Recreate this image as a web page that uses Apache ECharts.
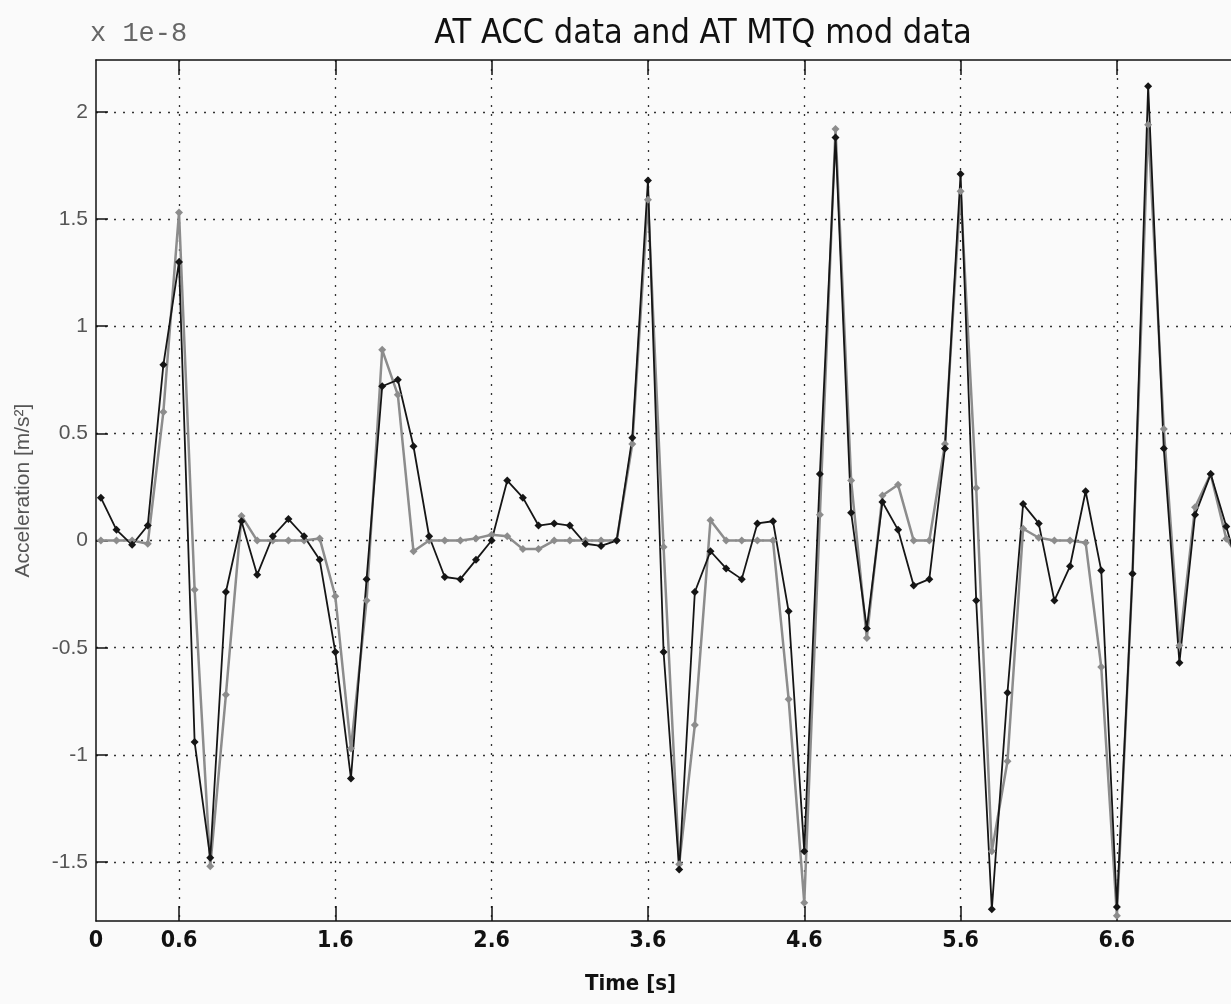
<!DOCTYPE html>
<html>
<head>
<meta charset="utf-8">
<script src="https://cdn.jsdelivr.net/npm/echarts@6/dist/echarts.min.js"></script>
<style>
html,body{margin:0;padding:0;background:#fafafa;}
#chart{width:1231px;height:1004px;}
</style>
</head>
<body>
<div id="chart"></div>
<script>
// ---- data ----
const timeS = [0.1,0.2,0.3,0.4,0.5,0.6,0.7,0.8,0.9,1.0,
  1.1,1.2,1.3,1.4,1.5,1.6,1.7,1.8,1.9,2.0,
  2.1,2.2,2.3,2.4,2.5,2.6,2.7,2.8,2.9,3.0,
  3.1,3.2,3.3,3.4,3.5,3.6,3.7,3.8,3.9,4.0,
  4.1,4.2,4.3,4.4,4.5,4.6,4.7,4.8,4.9,5.0,
  5.1,5.2,5.3,5.4,5.5,5.6,5.7,5.8,5.9,6.0,
  6.1,6.2,6.3,6.4,6.5,6.6,6.7,6.8,6.9,7.0,
  7.1,7.2,7.3,7.4];
// AT ACC data (black), units of 1e-8 m/s^2
const accData = [0.20,0.05,-0.02,0.07,0.82,1.30,-0.94,-1.48,-0.24,0.09,
  -0.16,0.02,0.10,0.02,-0.09,-0.52,-1.11,-0.18,0.72,0.75,
  0.44,0.02,-0.17,-0.18,-0.09,0.00,0.28,0.20,0.07,0.08,
  0.07,-0.015,-0.025,0.00,0.48,1.68,-0.52,-1.535,-0.24,-0.05,
  -0.13,-0.18,0.08,0.09,-0.33,-1.45,0.31,1.88,0.13,-0.41,
  0.18,0.05,-0.21,-0.18,0.43,1.71,-0.28,-1.72,-0.71,0.17,
  0.08,-0.28,-0.12,0.23,-0.14,-1.71,-0.155,2.12,0.43,-0.57,
  0.12,0.31,0.065,-0.2];
// AT MTQ mod data (grey)
const mtqData = [0.00,0.00,0.00,-0.015,0.60,1.53,-0.23,-1.52,-0.72,0.115,
  0.00,0.00,0.00,0.00,0.01,-0.26,-0.97,-0.28,0.89,0.68,
  -0.05,0.00,0.00,0.00,0.01,0.027,0.02,-0.04,-0.04,0.00,
  0.00,0.00,0.00,0.00,0.45,1.59,-0.03,-1.51,-0.86,0.095,
  0.00,0.00,0.00,0.00,-0.74,-1.69,0.12,1.92,0.28,-0.455,
  0.21,0.26,0.00,0.00,0.45,1.63,0.245,-1.45,-1.03,0.055,
  0.013,0.00,0.00,-0.01,-0.59,-1.75,-0.155,1.94,0.52,-0.49,
  0.155,0.31,0.008,-0.1];
const xMin = 0.069, xMax = 7.33;
const yMin = -1.775, yMax = 2.242;
const xTickValues = [0.6,1.6,2.6,3.6,4.6,5.6,6.6];
const xLabelValues = [xMin,0.6,1.6,2.6,3.6,4.6,5.6,6.6];
const xLabelTexts = ['0','0.6','1.6','2.6','3.6','4.6','5.6','6.6'];
const yTickValues = [-1.5,-1,-0.5,0,0.5,1,1.5,2];
const yTickLabels = ['-1.5','-1','-0.5','0','0.5','1','1.5','2'];

const accPts = timeS.map((t,i)=>[t,accData[i]]);
const mtqPts = timeS.map((t,i)=>[t,mtqData[i]]);

const condFont = "'DejaVu Sans Condensed', 'Liberation Sans', sans-serif";
const chart = echarts.init(document.getElementById('chart'), null, {renderer:'canvas'});
const dotted = {type:[2,7], color:'#333', width:1.3};
chart.setOption({
  backgroundColor:'#fafafa',
  animation:false,
  title:{
    text:'AT ACC data and AT MTQ mod data',
    left:698, top:12, textAlign:'center',
    textStyle:{fontFamily:condFont, fontWeight:'normal', fontSize:34, color:'#111'}
  },
  graphic:[{
    type:'text', left:90, top:20,
    style:{text:'x 1e-8', fontFamily:'Liberation Mono', fontSize:27, fill:'#666'}
  }],
  grid:{left:96, right:0, top:60, bottom:83, containLabel:false},
  xAxis:[{
    type:'value', min:xMin, max:xMax, position:'bottom',
    name:'Time [s]', nameLocation:'middle', nameGap:52,
    nameTextStyle:{fontFamily:condFont, fontSize:22, fontWeight:'bold', color:'#111', padding:[0,66,0,0]},
    axisLine:{show:true, onZero:false, lineStyle:{color:'#111', width:1.5}},
    axisTick:{show:true, inside:true, length:15, customValues:xTickValues, lineStyle:{color:'#111', width:1.5}},
    axisLabel:{customValues:xLabelValues, margin:9, showMinLabel:true,
      formatter:function(v){ const i = xLabelValues.findIndex(x=>Math.abs(x-v)<1e-6); return i>=0?xLabelTexts[i]:''; },
      fontFamily:condFont, fontSize:23, fontWeight:'bold', color:'#111'},
    splitLine:{show:true, lineStyle:dotted}
  },{
    type:'value', min:xMin, max:xMax, position:'top',
    axisLine:{show:true, onZero:false, lineStyle:{color:'#111', width:1.5}},
    axisTick:{show:true, inside:true, length:15, customValues:xTickValues, lineStyle:{color:'#111', width:1.5}},
    axisLabel:{show:false},
    splitLine:{show:false}
  }],
  yAxis:{
    type:'value', min:yMin, max:yMax,
    name:'Acceleration [m/s²]', nameLocation:'middle', nameGap:62,
    nameTextStyle:{fontFamily:'Liberation Sans', fontSize:21, color:'#555'},
    axisLine:{show:true, onZero:false, lineStyle:{color:'#111', width:1.5}},
    axisTick:{show:true, inside:true, length:12, customValues:yTickValues, lineStyle:{color:'#111', width:1.5}},
    axisLabel:{customValues:yTickValues, margin:8,
      formatter:function(v){ const i = yTickValues.findIndex(y=>Math.abs(y-v)<1e-6); return i>=0?yTickLabels[i]:''; },
      fontFamily:'Liberation Sans', fontSize:21, color:'#555'},
    splitLine:{show:true, lineStyle:dotted}
  },
  series:[{
    name:'AT MTQ mod data', type:'line', data:mtqPts, xAxisIndex:0,
    symbol:'diamond', symbolSize:8, showAllSymbol:true,
    lineStyle:{color:'#8c8c8c', width:2.5},
    itemStyle:{color:'#8c8c8c'}
  },{
    name:'AT ACC data', type:'line', data:accPts, xAxisIndex:0,
    symbol:'diamond', symbolSize:8, showAllSymbol:true,
    lineStyle:{color:'#151515', width:1.8},
    itemStyle:{color:'#151515'}
  }]
});
</script>
</body>
</html>
